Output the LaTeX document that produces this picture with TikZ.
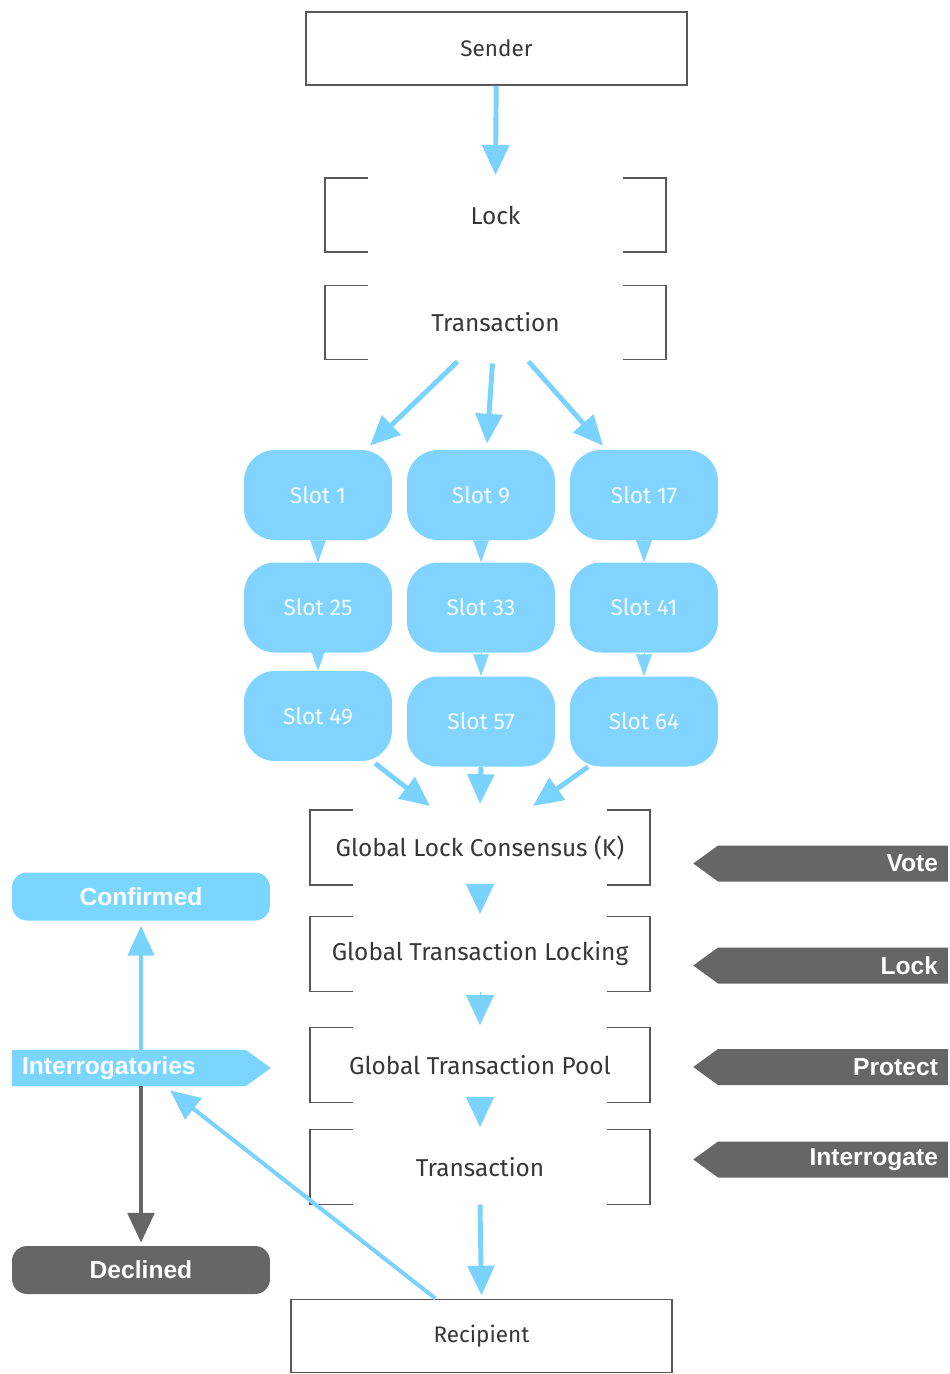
\documentclass[tikz,border=0pt]{standalone}
\usepackage{fontspec}
\setmainfont{Fira Sans}
\newfontfamily\tagfont{Liberation Sans}
\usetikzlibrary{arrows.meta,shapes.symbols}

\definecolor{slotblue}{RGB}{128,212,255}
\definecolor{arrowblue}{RGB}{122,211,255}
\definecolor{tagblue}{RGB}{122,214,255}
\definecolor{tagdark}{RGB}{102,102,102}
\definecolor{framegray}{RGB}{88,88,88}
\definecolor{labelgray}{RGB}{55,55,55}

\begin{document}
\begin{tikzpicture}[x=0.02cm, y=-0.02cm]

    % Define styles
    \tikzstyle{endbox} = [
        rectangle, draw=framegray, line width=1.1pt,
        minimum width=7.62cm, minimum height=1.46cm,
        text=labelgray, font=\fontsize{12.8}{15}\selectfont
    ]
    \tikzstyle{stage} = [
        rectangle, outer sep=0pt,
        minimum width=6.8cm, minimum height=1.5cm,
        text=labelgray, font=\fontsize{13.9}{16}\selectfont
    ]
    \tikzstyle{bracket} = [draw=framegray, line width=1.1pt]
    \tikzstyle{slot} = [
        rectangle, rounded corners=0.62cm,
        fill=slotblue, text=white!92!slotblue,
        minimum width=2.96cm, minimum height=1.8cm,
        font=\fontsize{12.9}{15}\selectfont
    ]
    \tikzstyle{outcome} = [
        rectangle, rounded corners=0.3cm, text=white,
        minimum width=5.16cm, minimum height=0.96cm,
        font=\tagfont\bfseries\fontsize{14}{16}\selectfont
    ]
    \tikzstyle{action} = [
        signal, signal to=west, signal pointer angle=72,
        fill=tagdark, text=white, inner xsep=0.2cm,
        text width=4.2cm, align=right, minimum height=0.72cm,
        font=\tagfont\bfseries\fontsize{14}{16}\selectfont
    ]
    \tikzstyle{arrow} = [line width=2.8pt, draw=arrowblue, -{Triangle[length=17pt,width=15pt]}]
    \tikzstyle{pointer} = [line width=0.1pt, draw=slotblue, -{Triangle[length=12.5pt,width=9pt]}]
    \tikzstyle{flow} = [line width=0.1pt, draw=arrowblue, shorten >=1.5pt, -{Triangle[length=17pt,width=16pt]}]

    \useasboundingbox (0,0) rectangle (950,1374);

    % Main column
    \node[endbox] (sender) at (496.5,48.5) {Sender};
    \node[stage, minimum width=6.82cm, minimum height=1.48cm] (lock) at (495.5,215) {Lock};
    \node[stage, minimum width=6.82cm, minimum height=1.48cm] (trans) at (495.5,322.5) {Transaction};

    % Slots
    \node[slot] (s1)  at (318,495) {Slot 1};
    \node[slot] (s9)  at (481,495) {Slot 9};
    \node[slot] (s17) at (644,495) {Slot 17};
    \node[slot] (s25) at (318,607.5) {Slot 25};
    \node[slot] (s33) at (481,607.5) {Slot 33};
    \node[slot] (s41) at (644,607.5) {Slot 41};
    \node[slot] (s49) at (318,716) {Slot 49};
    \node[slot] (s57) at (481,721.5) {Slot 57};
    \node[slot] (s64) at (644,721.5) {Slot 64};

    \node[stage] (glc)   at (480,847.5)  {Global Lock Consensus (K)};
    \node[stage] (gtl)   at (480,954)    {Global Transaction Locking};
    \node[stage] (gtp)   at (480,1065)   {Global Transaction Pool};
    \node[stage] (trans2) at (480,1167)  {Transaction};
    \node[endbox] (recip) at (481.5,1336) {Recipient};

    % Left side
    \node[outcome, fill=tagblue] (conf) at (141,896.5) {Confirmed};
    \node[action, signal to=east, fill=tagblue, text width=4.28cm, align=left] (intr) at (129,1068) {Interrogatories};
    \node[outcome, fill=tagdark] (decl) at (141,1270) {Declined};

    % Right side
    \node[action] (vote)  at (833,863.5)  {Vote};
    \node[action] (lockt) at (833,965.5)  {Lock};
    \node[action] (prot)  at (833,1067)   {Protect};
    \node[action] (intg)  at (833,1159.5) {Interrogate};

    % Brackets
    \foreach \n in {lock,trans,glc,gtl,gtp,trans2} {
        \draw[bracket] ([shift={(43,0)}]\n.north west) -| (\n.south west) -- ++(43,0);
        \draw[bracket] ([shift={(-43,0)}]\n.north east) -| (\n.south east) -- ++(-43,0);
    }

    % Arrows
    \draw[arrow] (sender) -- ([shift={(0,-3)}]lock.north);
    \draw[arrow] ([shift={(-38,2)}]trans.south) -- ([shift={(52,-4)}]s1.north);
    \draw[arrow] ([shift={(-3,4)}]trans.south) -- ([shift={(6,-6)}]s9.north);
    \draw[arrow] ([shift={(33,2)}]trans.south) -- ([shift={(-41,-4)}]s17.north);

    \draw[pointer] (s1) -- (s25.north);
    \draw[pointer] (s9) -- (s33.north);
    \draw[pointer] (s17) -- (s41.north);
    \draw[pointer] (s25) -- (s49.north);
    \draw[pointer] (s33) -- (s57.north);
    \draw[pointer] (s41) -- (s64.north);

    \draw[arrow] ([shift={(57,2)}]s49.south) -- ([shift={(-50,-4)}]glc.north);
    \draw[arrow] (s57.south) -- ([shift={(0,-6)}]glc.north);
    \draw[arrow] ([shift={(-56,0)}]s64.south) -- ([shift={(53,-4)}]glc.north);

    \draw[flow] (glc.south) -- (gtl.north);
    \draw[flow] (gtl.south) -- (gtp.north);
    \draw[flow] (gtp.south) -- (trans2.north);
    \draw[arrow] (trans2.south) -- ([shift={(0,-3)}]recip.north);

    \draw[arrow, line width=2pt] (intr.north -| conf.south) -- ([shift={(0,5)}]conf.south);
    \draw[arrow, draw=tagdark] (intr.south -| decl.north) -- ([shift={(0,-3)}]decl.north);
    \draw[arrow, line width=2.3pt] ([shift={(-46,0)}]recip.north) -- ([shift={(41,4)}]intr.south);

\end{tikzpicture}
\end{document}
